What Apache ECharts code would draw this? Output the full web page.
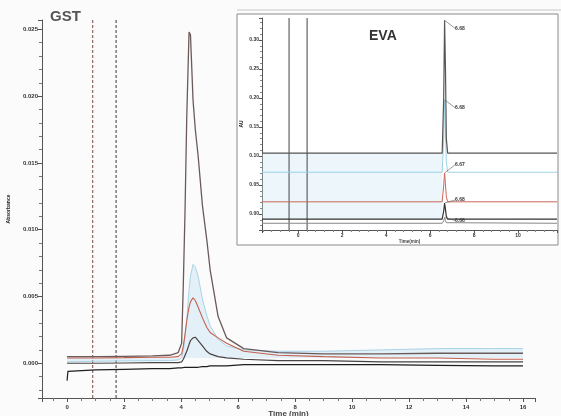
<!DOCTYPE html>
<html><head><meta charset="utf-8">
<script src="https://cdn.jsdelivr.net/npm/echarts@6/dist/echarts.min.js"></script>
<style>html,body{margin:0;padding:0;background:#fbfbfb}#c{width:561px;height:416px}</style>
</head><body><div id="c"></div>
<script>
// ---- main chart (GST) ----
const gstTime = [0, 0.03, 1, 2, 3, 3.6, 3.9, 4.02, 4.08, 4.14, 4.2, 4.28, 4.33, 4.42, 4.5, 4.6, 4.75, 4.9, 5.02, 5.3, 5.6, 6.2, 7.4, 9, 11, 13, 15, 16];
const gstA = [0.0005, 0.0005, 0.0005, 0.00052, 0.00055, 0.0006, 0.0008, 0.0015, 0.006, 0.0115, 0.0185, 0.0248, 0.0246, 0.0197, 0.0175, 0.0155, 0.0118, 0.0093, 0.0070, 0.0035, 0.0019, 0.0011, 0.0008, 0.0007, 0.0007, 0.00075, 0.00075, 0.00075];
const gstB = [0.0001, 0.00015, 0.00015, 0.00018, 0.0002, 0.0002, 0.00025, 0.0004, 0.001, 0.002, 0.0033, 0.0055, 0.0065, 0.0074, 0.0072, 0.0065, 0.0048, 0.0036, 0.0028, 0.0018, 0.0013, 0.001, 0.0009, 0.0009, 0.001, 0.0011, 0.0011, 0.0011];
const gstC = [0.0004, 0.0004, 0.0004, 0.00042, 0.00045, 0.00045, 0.0005, 0.0007, 0.0013, 0.0022, 0.0032, 0.0042, 0.0046, 0.0049, 0.0047, 0.0042, 0.0034, 0.0027, 0.0023, 0.0019, 0.0015, 0.0009, 0.0006, 0.0005, 0.0004, 0.0004, 0.0003, 0.0003];
const gstD = [0.0, 0.0, 0.0, 0.00002, 0.00005, 0.00005, 0.00005, 0.0001, 0.0003, 0.0006, 0.0009, 0.0014, 0.0017, 0.0019, 0.00195, 0.0017, 0.0013, 0.0009, 0.0007, 0.0005, 0.0004, 0.0003, 0.0002, 0.0002, 0.0001, 0.0001, 0.0001, 0.0001];
const gstE = [-0.0013, -0.0006, -0.0005, -0.00045, -0.0004, -0.0004, -0.00035, -0.00035, -0.00035, -0.0003, -0.0003, -0.0003, -0.0003, -0.0003, -0.0003, -0.0003, -0.00025, -0.00025, -0.0002, -0.0002, -0.0002, -0.0001, -0.0001, -0.0001, -0.0001, -0.00015, -0.0002, -0.0002];
const gstMarkers = [0.9, 1.72];
const gstXRange = [-0.88, 16.42];
const gstYRange = [-0.0026, 0.0257];

// ---- inset chart (EVA) ----
const evaTime = [-1.64, 6.55, 6.62, 6.66, 6.7, 6.74, 6.8, 11.77];
const evaS1 = [0.105, 0.105, 0.2, 0.334, 0.25, 0.13, 0.105, 0.105];
const evaS2 = [0.072, 0.072, 0.13, 0.197, 0.14, 0.09, 0.072, 0.072];
const evaS3 = [0.021, 0.021, 0.05, 0.071, 0.05, 0.03, 0.021, 0.021];
const evaS4 = [-0.009, -0.009, 0.005, 0.019, 0.008, -0.004, -0.009, -0.009];
const evaS5 = [-0.016, -0.016, -0.012, -0.006, -0.011, -0.015, -0.016, -0.016];
const evaPeakLabels = ['6.68', '6.68', '6.67', '6.68', '6.66'];
const evaMarkers = [-0.41, 0.41];
const evaBand = [-0.009, 0.105];
const evaXRange = [-1.64, 11.77];
const evaYRange = [-0.0276, 0.338];

const zip = (xs, ys) => xs.map((x, i) => [x, ys[i]]);
const FONT = 'Liberation Sans, Arial, sans-serif';

function mainLine(ys, color, width, extra) {
  return Object.assign({
    type: 'line', xAxisIndex: 0, yAxisIndex: 0, data: zip(gstTime, ys),
    showSymbol: false, symbol: 'none', smooth: false,
    lineStyle: { color: color, width: width }, z: 3
  }, extra || {});
}
function markerLine(x, color, idx, range, dashed) {
  return {
    type: 'line', xAxisIndex: idx, yAxisIndex: idx, symbol: 'none',
    data: [[x, range[0]], [x, range[1]]],
    lineStyle: { color: color, width: 1, type: dashed ? [3, 2] : 'solid' }, z: 2
  };
}
function insetLine(ys, color, width, lbl, dy) {
  const data = zip(evaTime, ys).map((p, i) => i === 3 ? {
    value: p,
    label: { show: true, formatter: lbl, position: 'right', distance: 1,
      fontSize: 5, fontWeight: 'bold', color: '#333', opacity: 1, fontFamily: FONT }
  } : p);
  return {
    type: 'line', xAxisIndex: 1, yAxisIndex: 1, data: data,
    symbol: 'circle', symbolSize: 1, showSymbol: true, showAllSymbol: true,
    itemStyle: { color: 'rgba(0,0,0,0)' },
    lineStyle: { color: color, width: width }, z: 4,
    labelLayout: { dx: 9, dy: dy, hideOverlap: false },
    labelLine: { show: true, lineStyle: { color: '#555', width: 0.6 } }
  };
}

const chart = echarts.init(document.getElementById('c'), null, { renderer: 'canvas' });
const axLine = { onZero: false, lineStyle: { color: '#555', width: 1 } };
const option = {
  backgroundColor: '#fbfbfb',
  animation: false,
  grid: [
    { left: 42, top: 20, width: 493, height: 378, outerBoundsMode: 'none', containLabel: false },
    { left: 262, top: 18, width: 295, height: 212, outerBoundsMode: 'none', containLabel: false }
  ],
  xAxis: [
    { type: 'value', gridIndex: 0, min: gstXRange[0], max: gstXRange[1], splitNumber: 8,
      splitLine: { show: false }, axisLine: axLine,
      axisTick: { length: 4, lineStyle: { color: '#555' } },
      minorTick: { show: true, splitNumber: 4, length: 3, lineStyle: { color: '#777' } },
      axisLabel: { fontSize: 6, fontWeight: 'bold', color: '#333', fontFamily: FONT, margin: 6,
        showMinLabel: false, showMaxLabel: false,
        formatter: v => (Math.abs(v - Math.round(v)) < 1e-6 && Math.round(v) % 2 === 0) ? String(Math.round(v)) : '' },
      name: 'Time (min)', nameLocation: 'middle', nameGap: 12, nameMoveOverlap: false,
      nameTextStyle: { fontSize: 8, fontWeight: 'bold', color: '#444', fontFamily: FONT } },
    { type: 'value', gridIndex: 1, min: evaXRange[0], max: evaXRange[1], splitNumber: 6,
      splitLine: { show: false }, axisLine: axLine,
      axisTick: { length: 3, lineStyle: { color: '#555' } },
      minorTick: { show: true, splitNumber: 5, length: 2, lineStyle: { color: '#888' } },
      axisLabel: { fontSize: 5, fontWeight: 'bold', color: '#333', fontFamily: FONT, margin: 3,
        showMinLabel: false, showMaxLabel: false,
        formatter: v => (Math.abs(v - Math.round(v)) < 1e-6 && Math.round(v) % 2 === 0) ? String(Math.round(v)) : '' },
      name: 'Time(min)', nameLocation: 'middle', nameGap: 9, nameMoveOverlap: false,
      nameTextStyle: { fontSize: 4.5, fontWeight: 'bold', color: '#444', fontFamily: FONT } }
  ],
  yAxis: [
    { type: 'value', gridIndex: 0, min: gstYRange[0], max: gstYRange[1], splitNumber: 6,
      splitLine: { show: false }, axisLine: axLine,
      axisTick: { length: 4, lineStyle: { color: '#555' } },
      minorTick: { show: true, splitNumber: 5, length: 3, lineStyle: { color: '#777' } },
      axisLabel: { fontSize: 6, fontWeight: 'bold', color: '#333', fontFamily: FONT, margin: 4,
        showMinLabel: false, showMaxLabel: false,
        formatter: v => (Math.abs(v * 1000 - Math.round(v * 1000)) < 1e-6 && Math.round(v * 1000) % 5 === 0) ? v.toFixed(3) : '' },
      name: 'Absorbance', nameLocation: 'middle', nameGap: 31, nameMoveOverlap: false,
      nameTextStyle: { fontSize: 5, fontWeight: 'bold', color: '#222', fontFamily: FONT } },
    { type: 'value', gridIndex: 1, min: evaYRange[0], max: evaYRange[1], splitNumber: 7,
      splitLine: { show: false }, axisLine: axLine,
      axisTick: { length: 3, lineStyle: { color: '#555' } },
      minorTick: { show: true, splitNumber: 5, length: 2, lineStyle: { color: '#888' } },
      axisLabel: { fontSize: 5, fontWeight: 'bold', color: '#333', fontFamily: FONT, margin: 3,
        showMinLabel: false, showMaxLabel: false,
        formatter: v => (Math.abs(v * 100 - Math.round(v * 100)) < 1e-6 && Math.round(v * 100) % 5 === 0) ? v.toFixed(2) : '' },
      name: 'AU', nameLocation: 'middle', nameGap: 18, nameMoveOverlap: false,
      nameTextStyle: { fontSize: 5, fontWeight: 'bold', color: '#222', fontFamily: FONT } }
  ],
  graphic: [
    { type: 'rect', z: -1, shape: { x: 237, y: 14, width: 321, height: 231 },
      style: { fill: '#ffffff', stroke: '#8a8a8a', lineWidth: 1 } },
    { type: 'line', z: -1, shape: { x1: 237, y1: 10, x2: 561, y2: 10 },
      style: { stroke: '#c8c8c8', lineWidth: 1 } },
    { type: 'text', left: 50, top: 9, z: 10,
      style: { text: 'GST', font: 'bold 15px ' + FONT, fill: '#555' } },
    { type: 'text', left: 369, top: 29, z: 10,
      style: { text: 'EVA', font: 'bold 14px ' + FONT, fill: '#333' } }
  ],
  series: [
    markerLine(gstMarkers[0], '#7a4848', 0, gstYRange, true),
    markerLine(gstMarkers[1], '#3a3a3a', 0, gstYRange, true),
    mainLine(gstB, '#a9d3e6', 1, { areaStyle: { color: 'rgba(190,225,242,0.55)', origin: 0.0004 } }),
    mainLine(gstE, '#1e1e1e', 1.2),
    mainLine(gstD, '#4a4444', 1.2),
    mainLine(gstC, '#c4604f', 1.1),
    mainLine(gstA, '#6a5a5a', 1.3),
    // inset
    {
      type: 'line', xAxisIndex: 1, yAxisIndex: 1, symbol: 'none', data: [],
      markArea: { silent: true, itemStyle: { color: 'rgba(200,228,243,0.35)' },
        data: [[{ coord: [evaXRange[0], evaBand[0]] }, { coord: [evaTime[1], evaBand[1]] }]] }
    },
    markerLine(evaMarkers[0], '#444', 1, evaYRange, false),
    markerLine(evaMarkers[1], '#444', 1, evaYRange, false),
    insetLine(evaS5, '#888', 1, evaPeakLabels[4], 3),
    insetLine(evaS4, '#333', 1.2, evaPeakLabels[3], -3),
    insetLine(evaS3, '#c9675a', 1, evaPeakLabels[2], -8),
    insetLine(evaS2, '#9fd0e4', 1, evaPeakLabels[1], 8),
    insetLine(evaS1, '#555', 1.2, evaPeakLabels[0], 8)
  ]
};
chart.setOption(option);
</script>
</body></html>
